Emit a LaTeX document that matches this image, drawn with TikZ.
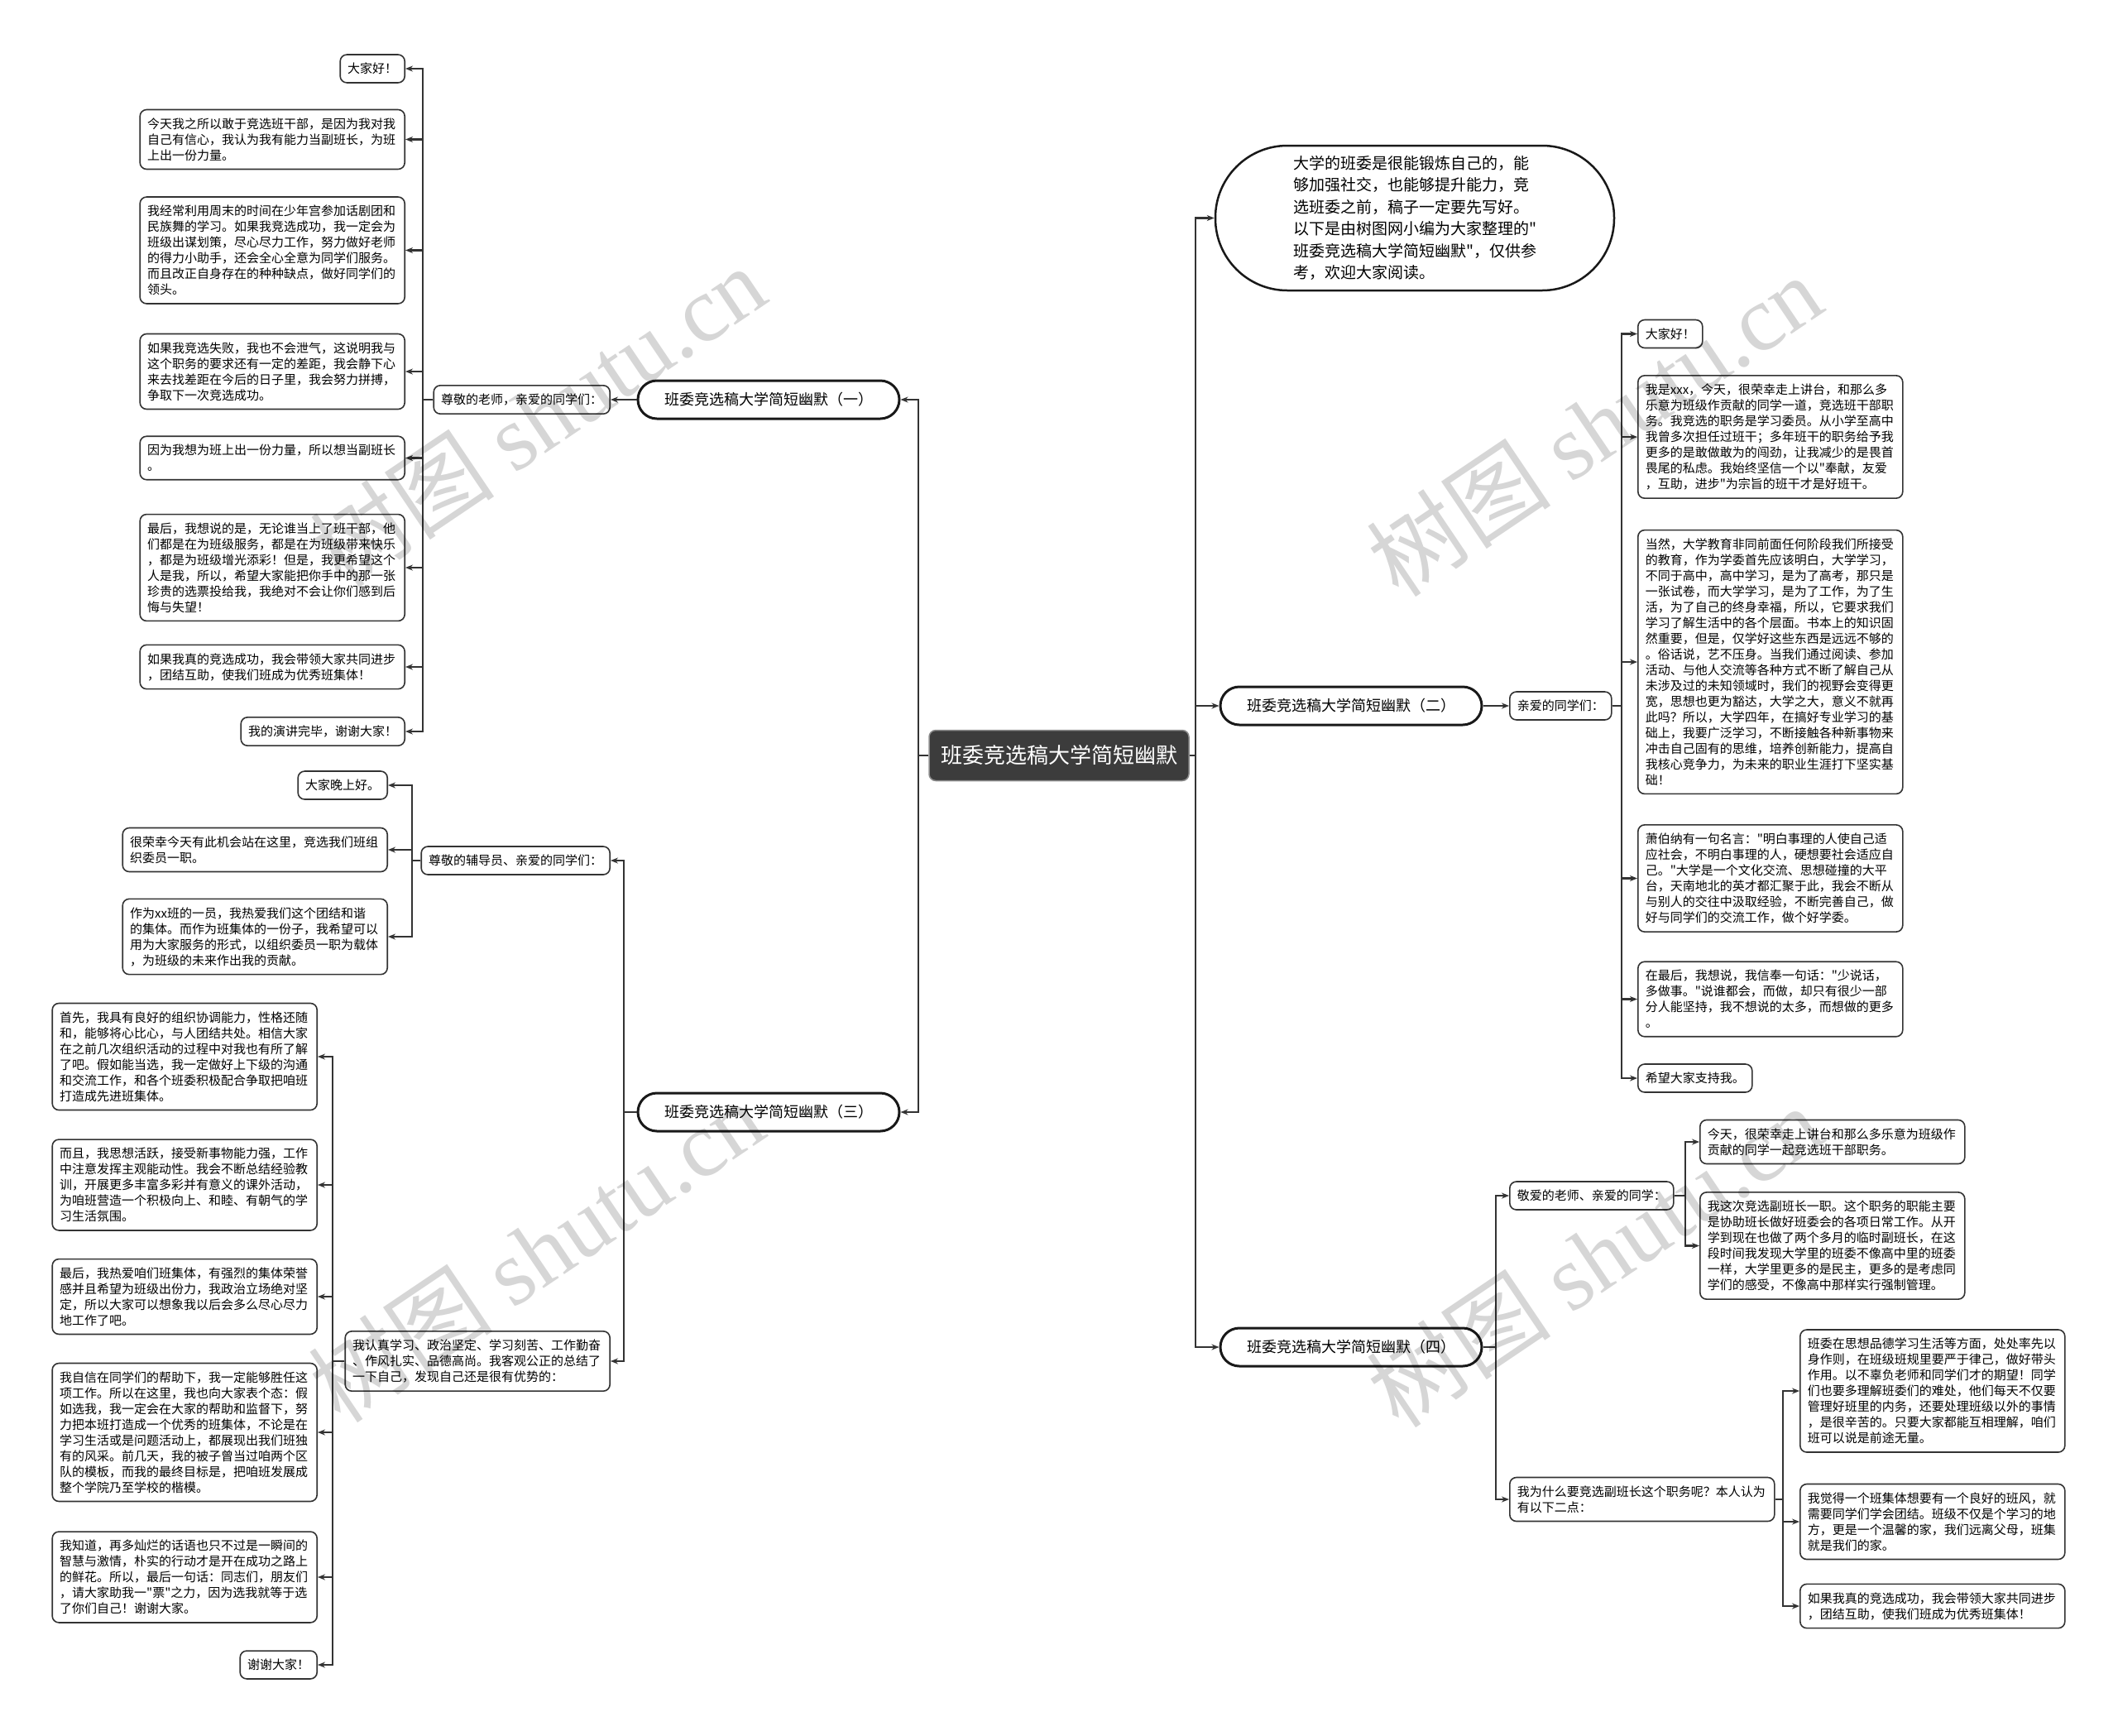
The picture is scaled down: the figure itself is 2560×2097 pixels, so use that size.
\documentclass[tikz,border=0pt]{standalone}
\usepackage{fontspec}
\setmainfont{Noto Sans CJK SC}
\newfontfamily\cjk{Noto Sans CJK SC}
\newfontfamily\wmserif{Liberation Serif}
\usetikzlibrary{arrows.meta}
\definecolor{ln}{HTML}{333333}
\definecolor{rootfill}{HTML}{3C3C3C}
\tikzset{
  leaf/.style={draw=ln, line width=1.6pt, rounded corners=8pt, fill=white, align=left,
    text width=302pt, inner xsep=9pt, inner ysep=10pt, font=\cjk\fontsize{15}{19}\selectfont},
  tag/.style={draw=ln, line width=1.6pt, rounded corners=8pt, fill=white,
    inner xsep=9pt, inner ysep=10pt, font=\cjk\fontsize{15}{19}\selectfont},
  branch/.style={draw=black!90, line width=3pt, rounded corners=23pt, minimum width=316pt,
    minimum height=46pt, fill=white, font=\cjk\fontsize{18}{22}\selectfont},
  root/.style={fill=rootfill, draw=black!45, line width=1.5pt, rounded corners=8pt,
    minimum width=314pt, minimum height=61pt, text=white, font=\cjk\fontsize{26}{30}\selectfont},
  intro/.style={draw=black!90, line width=2.5pt, rounded corners=87pt, minimum width=482pt,
    minimum height=175pt, align=left, fill=white, font=\cjk\fontsize{19}{26.5}\selectfont},
  conn/.style={draw=ln, line width=2.2pt, -{Stealth[length=9pt,width=7pt]}},
  wm/.style={rotate=34, text=black, opacity=0.16, font=\cjk\fontsize{112}{112}\selectfont}
}
\begin{document}
\begin{tikzpicture}[x=1pt,y=-1pt]
\useasboundingbox[fill=white] (0,0) rectangle (2560,2097);

% trunk coordinates
\coordinate (tCL) at (1110,0);
\coordinate (tCR) at (1445,0);
\coordinate (tA) at (511,0);
\coordinate (tB3) at (754,0);
\coordinate (tC1) at (498,0);
\coordinate (tC2) at (402,0);
\coordinate (tD) at (1960,0);
\coordinate (tB4) at (1808,0);
\coordinate (tE1) at (2037,0);
\coordinate (tE2) at (2155,0);

% root
\node[root] (c) at (1280,913) {班委竞选稿大学简短幽默};

% left branches
\node[branch] (b1) at (929,483) {班委竞选稿大学简短幽默（一）};
\node[branch] (b3) at (929,1344) {班委竞选稿大学简短幽默（三）};

\node[tag, anchor=east] (la) at (738,483) {尊敬的老师，亲爱的同学们：};

\node[tag, anchor=east] (a1) at (490,83) {大家好！};
\node[leaf, anchor=east] (a2) at (490,168.5) {今天我之所以敢于竞选班干部，是因为我对我\\自己有信心，我认为我有能力当副班长，为班\\上出一份力量。};
\node[leaf, anchor=east] (a3) at (490,302.5) {我经常利用周末的时间在少年宫参加话剧团和\\民族舞的学习。如果我竞选成功，我一定会为\\班级出谋划策，尽心尽力工作，努力做好老师\\的得力小助手，还会全心全意为同学们服务。\\而且改正自身存在的种种缺点，做好同学们的\\领头。};
\node[leaf, anchor=east] (a4) at (490,449) {如果我竞选失败，我也不会泄气，这说明我与\\这个职务的要求还有一定的差距，我会静下心\\来去找差距在今后的日子里，我会努力拼搏，\\争取下一次竞选成功。};
\node[leaf, anchor=east] (a5) at (490,553.5) {因为我想为班上出一份力量，所以想当副班长\\。};
\node[leaf, anchor=east] (a6) at (490,686) {最后，我想说的是，无论谁当上了班干部，他\\们都是在为班级服务，都是在为班级带来快乐\\，都是为班级增光添彩！但是，我更希望这个\\人是我，所以，希望大家能把你手中的那一张\\珍贵的选票投给我，我绝对不会让你们感到后\\悔与失望！};
\node[leaf, anchor=east] (a7) at (490,806) {如果我真的竞选成功，我会带领大家共同进步\\，团结互助，使我们班成为优秀班集体！};
\node[tag, anchor=east] (a8) at (490,884) {我的演讲完毕，谢谢大家！};

\node[tag, anchor=east] (l3a) at (738,1040) {尊敬的辅导员、亲爱的同学们：};
\node[leaf, anchor=east] (l3b) at (738,1645) {我认真学习、政治坚定、学习刻苦、工作勤奋\\、作风扎实、品德高尚。我客观公正的总结了\\一下自己，发现自己还是很有优势的：};

\node[tag, anchor=east] (p1) at (469,949) {大家晚上好。};
\node[leaf, anchor=east] (p2) at (469,1027) {很荣幸今天有此机会站在这里，竞选我们班组\\织委员一职。};
\node[leaf, anchor=east] (p3) at (469,1132) {作为xx班的一员，我热爱我们这个团结和谐\\的集体。而作为班集体的一份子，我希望可以\\用为大家服务的形式，以组织委员一职为载体\\，为班级的未来作出我的贡献。};

\node[leaf, anchor=east] (q1) at (384,1277) {首先，我具有良好的组织协调能力，性格还随\\和，能够将心比心，与人团结共处。相信大家\\在之前几次组织活动的过程中对我也有所了解\\了吧。假如能当选，我一定做好上下级的沟通\\和交流工作，和各个班委积极配合争取把咱班\\打造成先进班集体。};
\node[leaf, anchor=east] (q2) at (384,1432) {而且，我思想活跃，接受新事物能力强，工作\\中注意发挥主观能动性。我会不断总结经验教\\训，开展更多丰富多彩并有意义的课外活动，\\为咱班营造一个积极向上、和睦、有朝气的学\\习生活氛围。};
\node[leaf, anchor=east] (q3) at (384,1567) {最后，我热爱咱们班集体，有强烈的集体荣誉\\感并且希望为班级出份力，我政治立场绝对坚\\定，所以大家可以想象我以后会多么尽心尽力\\地工作了吧。};
\node[leaf, anchor=east] (q4) at (384,1731) {我自信在同学们的帮助下，我一定能够胜任这\\项工作。所以在这里，我也向大家表个态：假\\如选我，我一定会在大家的帮助和监督下，努\\力把本班打造成一个优秀的班集体，不论是在\\学习生活或是问题活动上，都展现出我们班独\\有的风采。前几天，我的被子曾当过咱两个区\\队的模板，而我的最终目标是，把咱班发展成\\整个学院乃至学校的楷模。};
\node[leaf, anchor=east] (q5) at (384,1906) {我知道，再多灿烂的话语也只不过是一瞬间的\\智慧与激情，朴实的行动才是开在成功之路上\\的鲜花。所以，最后一句话：同志们，朋友们\\，请大家助我一"票"之力，因为选我就等于选\\了你们自己！谢谢大家。};
\node[tag, anchor=east] (q6) at (384,2012) {谢谢大家！};

% right side
\node[intro] (intro) at (1710,263.5) {大学的班委是很能锻炼自己的，能\\够加强社交，也能够提升能力，竞\\选班委之前，稿子一定要先写好。\\以下是由树图网小编为大家整理的"\\班委竞选稿大学简短幽默"，仅供参\\考，欢迎大家阅读。};
\node[branch] (b2) at (1633,853) {班委竞选稿大学简短幽默（二）};
\node[branch] (b4) at (1633,1628) {班委竞选稿大学简短幽默（四）};

\node[tag, anchor=west] (l2) at (1824,853) {亲爱的同学们：};
\node[tag, anchor=west] (r1) at (1979,403.5) {大家好！};
\node[leaf, anchor=west] (r2) at (1979,528) {我是xxx，今天，很荣幸走上讲台，和那么多\\乐意为班级作贡献的同学一道，竞选班干部职\\务。我竞选的职务是学习委员。从小学至高中\\我曾多次担任过班干；多年班干的职务给予我\\更多的是敢做敢为的闯劲，让我减少的是畏首\\畏尾的私虑。我始终坚信一个以"奉献，友爱\\，互助，进步"为宗旨的班干才是好班干。};
\node[leaf, anchor=west] (r3) at (1979,800) {当然，大学教育非同前面任何阶段我们所接受\\的教育，作为学委首先应该明白，大学学习，\\不同于高中，高中学习，是为了高考，那只是\\一张试卷，而大学学习，是为了工作，为了生\\活，为了自己的终身幸福，所以，它要求我们\\学习了解生活中的各个层面。书本上的知识固\\然重要，但是，仅学好这些东西是远远不够的\\。俗话说，艺不压身。当我们通过阅读、参加\\活动、与他人交流等各种方式不断了解自己从\\未涉及过的未知领域时，我们的视野会变得更\\宽，思想也更为豁达，大学之大，意义不就再\\此吗？所以，大学四年，在搞好专业学习的基\\础上，我要广泛学习，不断接触各种新事物来\\冲击自己固有的思维，培养创新能力，提高自\\我核心竞争力，为未来的职业生涯打下坚实基\\础！};
\node[leaf, anchor=west] (r4) at (1979,1061.5) {萧伯纳有一句名言："明白事理的人使自己适\\应社会，不明白事理的人，硬想要社会适应自\\己。"大学是一个文化交流、思想碰撞的大平\\台，天南地北的英才都汇聚于此，我会不断从\\与别人的交往中汲取经验，不断完善自己，做\\好与同学们的交流工作，做个好学委。};
\node[leaf, anchor=west] (r5) at (1979,1207.5) {在最后，我想说，我信奉一句话："少说话，\\多做事。"说谁都会，而做，却只有很少一部\\分人能坚持，我不想说的太多，而想做的更多\\。};
\node[tag, anchor=west] (r6) at (1979,1303) {希望大家支持我。};

\node[tag, anchor=west] (l4a) at (1824,1445) {敬爱的老师、亲爱的同学：};
\node[leaf, anchor=west] (l4b) at (1824,1812) {我为什么要竞选副班长这个职务呢？本人认为\\有以下二点：};

\node[leaf, anchor=west] (s1) at (2054,1380) {今天，很荣幸走上讲台和那么多乐意为班级作\\贡献的同学一起竞选班干部职务。};
\node[leaf, anchor=west] (s2) at (2054,1505.5) {我这次竞选副班长一职。这个职务的职能主要\\是协助班长做好班委会的各项日常工作。从开\\学到现在也做了两个多月的临时副班长，在这\\段时间我发现大学里的班委不像高中里的班委\\一样，大学里更多的是民主，更多的是考虑同\\学们的感受，不像高中那样实行强制管理。};

\node[leaf, anchor=west] (t1) at (2175,1681) {班委在思想品德学习生活等方面，处处率先以\\身作则，在班级班规里要严于律己，做好带头\\作用。以不辜负老师和同学们才的期望！同学\\们也要多理解班委们的难处，他们每天不仅要\\管理好班里的内务，还要处理班级以外的事情\\，是很辛苦的。只要大家都能互相理解，咱们\\班可以说是前途无量。};
\node[leaf, anchor=west] (t2) at (2175,1839) {我觉得一个班集体想要有一个良好的班风，就\\需要同学们学会团结。班级不仅是个学习的地\\方，更是一个温馨的家，我们远离父母，班集\\就是我们的家。};
\node[leaf, anchor=west] (t3) at (2175,1941) {如果我真的竞选成功，我会带领大家共同进步\\，团结互助，使我们班成为优秀班集体！};

% connectors: root
\foreach \n in {b1,b3} \draw[conn] (c.west) -- (c.west -| tCL) |- (\n.east);
\foreach \n in {intro,b2,b4} \draw[conn] (c.east) -- (c.east -| tCR) |- (\n.west);

% branch 1
\draw[conn] (b1.west) -- (la.east);
\foreach \n in {a1,a2,a3,a4,a5,a6,a7,a8} \draw[conn] (la.west) -- (la.west -| tA) |- (\n.east);

% branch 3
\foreach \n in {l3a,l3b} \draw[conn] (b3.west) -- (b3.west -| tB3) |- (\n.east);
\foreach \n in {p1,p2,p3} \draw[conn] (l3a.west) -- (l3a.west -| tC1) |- (\n.east);
\foreach \n in {q1,q2,q3,q4,q5,q6} \draw[conn] (l3b.west) -- (l3b.west -| tC2) |- (\n.east);

% branch 2
\draw[conn] (b2.east) -- (l2.west);
\foreach \n in {r1,r2,r3,r4,r5,r6} \draw[conn] (l2.east) -- (l2.east -| tD) |- (\n.west);

% branch 4
\foreach \n in {l4a,l4b} \draw[conn] (b4.east) -- (b4.east -| tB4) |- (\n.west);
\foreach \n in {s1,s2} \draw[conn] (l4a.east) -- (l4a.east -| tE1) |- (\n.west);
\foreach \n in {t1,t2,t3} \draw[conn] (l4b.east) -- (l4b.east -| tE2) |- (\n.west);

% watermarks
\node[wm] (wm1) at (650,503) {树图 {\wmserif shutu.cn}};
\node[wm] (wm2) at (1927,514) {树图 {\wmserif shutu.cn}};
\node[wm] (wm3) at (648,1512) {树图 {\wmserif shutu.cn}};
\node[wm] (wm4) at (1927,1518) {树图 {\wmserif shutu.cn}};
\end{tikzpicture}
\end{document}
